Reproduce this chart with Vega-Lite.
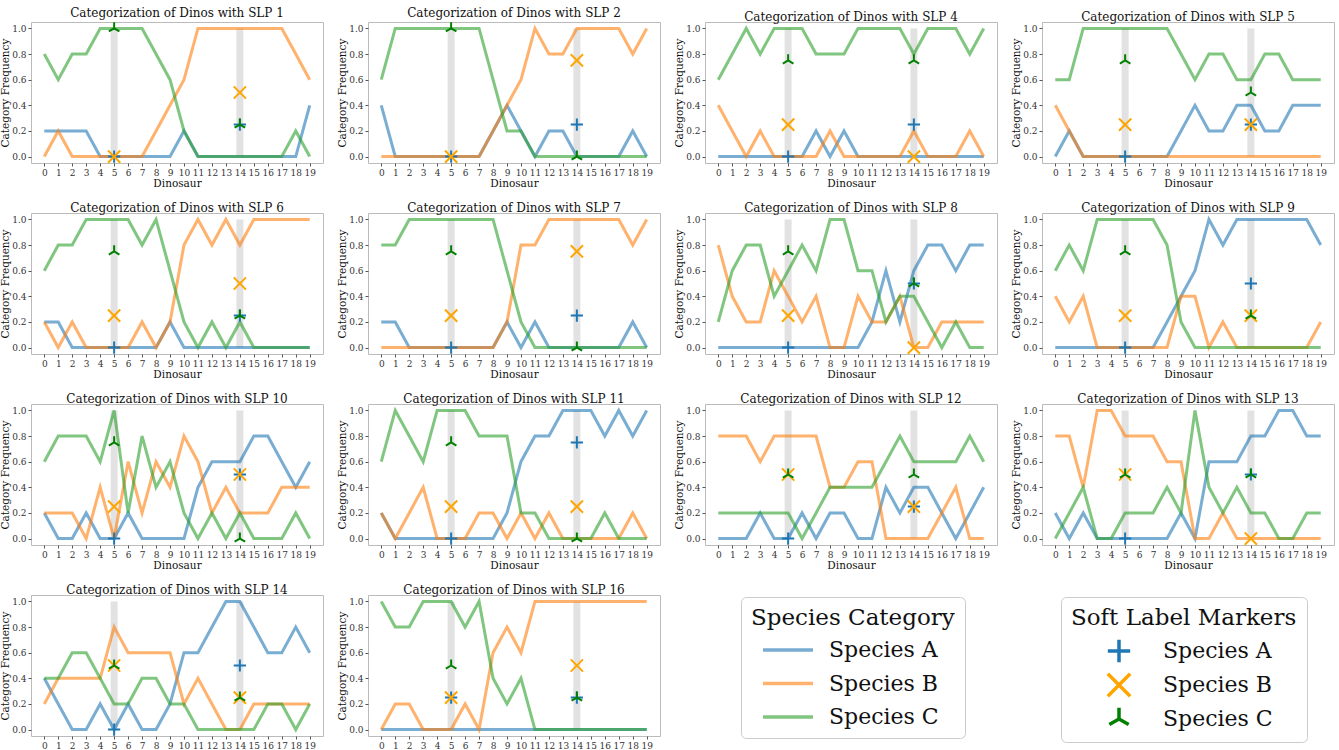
{
"$schema": "https://vega.github.io/schema/vega-lite/v6.json",
"padding": {"left": 0, "top": 6, "right": 0, "bottom": 0},
"config": {
 "font": "DejaVu Serif",
 "view": {"stroke": "#bbbbbb", "strokeWidth": 1},
 "axis": {"labelFont": "DejaVu Serif", "labelFontSize": 9, "labelColor": "#333333", "titleFont": "DejaVu Serif", "titleFontSize": 10.5, "titleFontWeight": "normal", "titleColor": "#111111", "domain": false, "grid": false, "tickColor": "#555555", "tickSize": 3, "labelPadding": 2, "titlePadding": 1},
 "header": {"labelFont": "DejaVu Serif", "labelFontSize": 12, "labelColor": "#111111", "labelPadding": -2},
 "legend": {"labelFont": "DejaVu Serif", "titleFont": "DejaVu Serif", "titleFontWeight": "normal", "labelColor": "#111111", "titleColor": "#111111", "titleLimit": 500, "labelLimit": 300}
},
"data": {"values": [
{"slp":1,"d":0,"A":0.2,"B":0,"C":0.8},{"slp":1,"d":1,"A":0.2,"B":0.2,"C":0.6},{"slp":1,"d":2,"A":0.2,"B":0,"C":0.8},{"slp":1,"d":3,"A":0.2,"B":0,"C":0.8},{"slp":1,"d":4,"A":0,"B":0,"C":1},{"slp":1,"d":5,"A":0,"B":0,"C":1},{"slp":1,"d":6,"A":0,"B":0,"C":1},{"slp":1,"d":7,"A":0,"B":0,"C":1},{"slp":1,"d":8,"A":0,"B":0.2,"C":0.8},{"slp":1,"d":9,"A":0,"B":0.4,"C":0.6},{"slp":1,"d":10,"A":0.2,"B":0.6,"C":0.2},{"slp":1,"d":11,"A":0,"B":1,"C":0},{"slp":1,"d":12,"A":0,"B":1,"C":0},{"slp":1,"d":13,"A":0,"B":1,"C":0},{"slp":1,"d":14,"A":0,"B":1,"C":0},{"slp":1,"d":15,"A":0,"B":1,"C":0},{"slp":1,"d":16,"A":0,"B":1,"C":0},{"slp":1,"d":17,"A":0,"B":1,"C":0},{"slp":1,"d":18,"A":0,"B":0.8,"C":0.2},{"slp":1,"d":19,"A":0.4,"B":0.6,"C":0},
{"slp":2,"d":0,"A":0.4,"B":0,"C":0.6},{"slp":2,"d":1,"A":0,"B":0,"C":1},{"slp":2,"d":2,"A":0,"B":0,"C":1},{"slp":2,"d":3,"A":0,"B":0,"C":1},{"slp":2,"d":4,"A":0,"B":0,"C":1},{"slp":2,"d":5,"A":0,"B":0,"C":1},{"slp":2,"d":6,"A":0,"B":0,"C":1},{"slp":2,"d":7,"A":0,"B":0,"C":1},{"slp":2,"d":8,"A":0.2,"B":0.2,"C":0.6},{"slp":2,"d":9,"A":0.4,"B":0.4,"C":0.2},{"slp":2,"d":10,"A":0.2,"B":0.6,"C":0.2},{"slp":2,"d":11,"A":0,"B":1,"C":0},{"slp":2,"d":12,"A":0.2,"B":0.8,"C":0},{"slp":2,"d":13,"A":0.2,"B":0.8,"C":0},{"slp":2,"d":14,"A":0,"B":1,"C":0},{"slp":2,"d":15,"A":0,"B":1,"C":0},{"slp":2,"d":16,"A":0,"B":1,"C":0},{"slp":2,"d":17,"A":0,"B":1,"C":0},{"slp":2,"d":18,"A":0.2,"B":0.8,"C":0},{"slp":2,"d":19,"A":0,"B":1,"C":0},
{"slp":4,"d":0,"A":0,"B":0.4,"C":0.6},{"slp":4,"d":1,"A":0,"B":0.2,"C":0.8},{"slp":4,"d":2,"A":0,"B":0,"C":1},{"slp":4,"d":3,"A":0,"B":0.2,"C":0.8},{"slp":4,"d":4,"A":0,"B":0,"C":1},{"slp":4,"d":5,"A":0,"B":0,"C":1},{"slp":4,"d":6,"A":0,"B":0,"C":1},{"slp":4,"d":7,"A":0.2,"B":0,"C":0.8},{"slp":4,"d":8,"A":0,"B":0.2,"C":0.8},{"slp":4,"d":9,"A":0.2,"B":0,"C":0.8},{"slp":4,"d":10,"A":0,"B":0,"C":1},{"slp":4,"d":11,"A":0,"B":0,"C":1},{"slp":4,"d":12,"A":0,"B":0,"C":1},{"slp":4,"d":13,"A":0,"B":0,"C":1},{"slp":4,"d":14,"A":0,"B":0.2,"C":0.8},{"slp":4,"d":15,"A":0,"B":0,"C":1},{"slp":4,"d":16,"A":0,"B":0,"C":1},{"slp":4,"d":17,"A":0,"B":0,"C":1},{"slp":4,"d":18,"A":0,"B":0.2,"C":0.8},{"slp":4,"d":19,"A":0,"B":0,"C":1},
{"slp":5,"d":0,"A":0,"B":0.4,"C":0.6},{"slp":5,"d":1,"A":0.2,"B":0.2,"C":0.6},{"slp":5,"d":2,"A":0,"B":0,"C":1},{"slp":5,"d":3,"A":0,"B":0,"C":1},{"slp":5,"d":4,"A":0,"B":0,"C":1},{"slp":5,"d":5,"A":0,"B":0,"C":1},{"slp":5,"d":6,"A":0,"B":0,"C":1},{"slp":5,"d":7,"A":0,"B":0,"C":1},{"slp":5,"d":8,"A":0,"B":0,"C":1},{"slp":5,"d":9,"A":0.2,"B":0,"C":0.8},{"slp":5,"d":10,"A":0.4,"B":0,"C":0.6},{"slp":5,"d":11,"A":0.2,"B":0,"C":0.8},{"slp":5,"d":12,"A":0.2,"B":0,"C":0.8},{"slp":5,"d":13,"A":0.4,"B":0,"C":0.6},{"slp":5,"d":14,"A":0.4,"B":0,"C":0.6},{"slp":5,"d":15,"A":0.2,"B":0,"C":0.8},{"slp":5,"d":16,"A":0.2,"B":0,"C":0.8},{"slp":5,"d":17,"A":0.4,"B":0,"C":0.6},{"slp":5,"d":18,"A":0.4,"B":0,"C":0.6},{"slp":5,"d":19,"A":0.4,"B":0,"C":0.6},
{"slp":6,"d":0,"A":0.2,"B":0.2,"C":0.6},{"slp":6,"d":1,"A":0.2,"B":0,"C":0.8},{"slp":6,"d":2,"A":0,"B":0.2,"C":0.8},{"slp":6,"d":3,"A":0,"B":0,"C":1},{"slp":6,"d":4,"A":0,"B":0,"C":1},{"slp":6,"d":5,"A":0,"B":0,"C":1},{"slp":6,"d":6,"A":0,"B":0,"C":1},{"slp":6,"d":7,"A":0,"B":0.2,"C":0.8},{"slp":6,"d":8,"A":0,"B":0,"C":1},{"slp":6,"d":9,"A":0.2,"B":0.2,"C":0.6},{"slp":6,"d":10,"A":0,"B":0.8,"C":0.2},{"slp":6,"d":11,"A":0,"B":1,"C":0},{"slp":6,"d":12,"A":0,"B":0.8,"C":0.2},{"slp":6,"d":13,"A":0,"B":1,"C":0},{"slp":6,"d":14,"A":0,"B":0.8,"C":0.2},{"slp":6,"d":15,"A":0,"B":1,"C":0},{"slp":6,"d":16,"A":0,"B":1,"C":0},{"slp":6,"d":17,"A":0,"B":1,"C":0},{"slp":6,"d":18,"A":0,"B":1,"C":0},{"slp":6,"d":19,"A":0,"B":1,"C":0},
{"slp":7,"d":0,"A":0.2,"B":0,"C":0.8},{"slp":7,"d":1,"A":0.2,"B":0,"C":0.8},{"slp":7,"d":2,"A":0,"B":0,"C":1},{"slp":7,"d":3,"A":0,"B":0,"C":1},{"slp":7,"d":4,"A":0,"B":0,"C":1},{"slp":7,"d":5,"A":0,"B":0,"C":1},{"slp":7,"d":6,"A":0,"B":0,"C":1},{"slp":7,"d":7,"A":0,"B":0,"C":1},{"slp":7,"d":8,"A":0,"B":0,"C":1},{"slp":7,"d":9,"A":0.2,"B":0.2,"C":0.6},{"slp":7,"d":10,"A":0,"B":0.8,"C":0.2},{"slp":7,"d":11,"A":0.2,"B":0.8,"C":0},{"slp":7,"d":12,"A":0,"B":1,"C":0},{"slp":7,"d":13,"A":0,"B":1,"C":0},{"slp":7,"d":14,"A":0,"B":1,"C":0},{"slp":7,"d":15,"A":0,"B":1,"C":0},{"slp":7,"d":16,"A":0,"B":1,"C":0},{"slp":7,"d":17,"A":0,"B":1,"C":0},{"slp":7,"d":18,"A":0.2,"B":0.8,"C":0},{"slp":7,"d":19,"A":0,"B":1,"C":0},
{"slp":8,"d":0,"A":0,"B":0.8,"C":0.2},{"slp":8,"d":1,"A":0,"B":0.4,"C":0.6},{"slp":8,"d":2,"A":0,"B":0.2,"C":0.8},{"slp":8,"d":3,"A":0,"B":0.2,"C":0.8},{"slp":8,"d":4,"A":0,"B":0.6,"C":0.4},{"slp":8,"d":5,"A":0,"B":0.4,"C":0.6},{"slp":8,"d":6,"A":0,"B":0.2,"C":0.8},{"slp":8,"d":7,"A":0,"B":0.4,"C":0.6},{"slp":8,"d":8,"A":0,"B":0,"C":1},{"slp":8,"d":9,"A":0,"B":0,"C":1},{"slp":8,"d":10,"A":0,"B":0.4,"C":0.6},{"slp":8,"d":11,"A":0.2,"B":0.2,"C":0.6},{"slp":8,"d":12,"A":0.6,"B":0.2,"C":0.2},{"slp":8,"d":13,"A":0.2,"B":0.4,"C":0.4},{"slp":8,"d":14,"A":0.6,"B":0,"C":0.4},{"slp":8,"d":15,"A":0.8,"B":0,"C":0.2},{"slp":8,"d":16,"A":0.8,"B":0.2,"C":0},{"slp":8,"d":17,"A":0.6,"B":0.2,"C":0.2},{"slp":8,"d":18,"A":0.8,"B":0.2,"C":0},{"slp":8,"d":19,"A":0.8,"B":0.2,"C":0},
{"slp":9,"d":0,"A":0,"B":0.4,"C":0.6},{"slp":9,"d":1,"A":0,"B":0.2,"C":0.8},{"slp":9,"d":2,"A":0,"B":0.4,"C":0.6},{"slp":9,"d":3,"A":0,"B":0,"C":1},{"slp":9,"d":4,"A":0,"B":0,"C":1},{"slp":9,"d":5,"A":0,"B":0,"C":1},{"slp":9,"d":6,"A":0,"B":0,"C":1},{"slp":9,"d":7,"A":0,"B":0,"C":1},{"slp":9,"d":8,"A":0.2,"B":0,"C":0.8},{"slp":9,"d":9,"A":0.4,"B":0.4,"C":0.2},{"slp":9,"d":10,"A":0.6,"B":0.4,"C":0},{"slp":9,"d":11,"A":1,"B":0,"C":0},{"slp":9,"d":12,"A":0.8,"B":0.2,"C":0},{"slp":9,"d":13,"A":1,"B":0,"C":0},{"slp":9,"d":14,"A":1,"B":0,"C":0},{"slp":9,"d":15,"A":1,"B":0,"C":0},{"slp":9,"d":16,"A":1,"B":0,"C":0},{"slp":9,"d":17,"A":1,"B":0,"C":0},{"slp":9,"d":18,"A":1,"B":0,"C":0},{"slp":9,"d":19,"A":0.8,"B":0.2,"C":0},
{"slp":10,"d":0,"A":0.2,"B":0.2,"C":0.6},{"slp":10,"d":1,"A":0,"B":0.2,"C":0.8},{"slp":10,"d":2,"A":0,"B":0.2,"C":0.8},{"slp":10,"d":3,"A":0.2,"B":0,"C":0.8},{"slp":10,"d":4,"A":0,"B":0.4,"C":0.6},{"slp":10,"d":5,"A":0,"B":0,"C":1},{"slp":10,"d":6,"A":0.2,"B":0.6,"C":0.2},{"slp":10,"d":7,"A":0,"B":0.2,"C":0.8},{"slp":10,"d":8,"A":0,"B":0.6,"C":0.4},{"slp":10,"d":9,"A":0,"B":0.4,"C":0.6},{"slp":10,"d":10,"A":0,"B":0.8,"C":0.2},{"slp":10,"d":11,"A":0.4,"B":0.6,"C":0},{"slp":10,"d":12,"A":0.6,"B":0.2,"C":0.2},{"slp":10,"d":13,"A":0.6,"B":0.4,"C":0},{"slp":10,"d":14,"A":0.6,"B":0.2,"C":0.2},{"slp":10,"d":15,"A":0.8,"B":0.2,"C":0},{"slp":10,"d":16,"A":0.8,"B":0.2,"C":0},{"slp":10,"d":17,"A":0.6,"B":0.4,"C":0},{"slp":10,"d":18,"A":0.4,"B":0.4,"C":0.2},{"slp":10,"d":19,"A":0.6,"B":0.4,"C":0},
{"slp":11,"d":0,"A":0.2,"B":0.2,"C":0.6},{"slp":11,"d":1,"A":0,"B":0,"C":1},{"slp":11,"d":2,"A":0,"B":0.2,"C":0.8},{"slp":11,"d":3,"A":0,"B":0.4,"C":0.6},{"slp":11,"d":4,"A":0,"B":0,"C":1},{"slp":11,"d":5,"A":0,"B":0,"C":1},{"slp":11,"d":6,"A":0,"B":0,"C":1},{"slp":11,"d":7,"A":0,"B":0.2,"C":0.8},{"slp":11,"d":8,"A":0,"B":0.2,"C":0.8},{"slp":11,"d":9,"A":0.2,"B":0,"C":0.8},{"slp":11,"d":10,"A":0.6,"B":0.2,"C":0.2},{"slp":11,"d":11,"A":0.8,"B":0,"C":0.2},{"slp":11,"d":12,"A":0.8,"B":0.2,"C":0},{"slp":11,"d":13,"A":1,"B":0,"C":0},{"slp":11,"d":14,"A":1,"B":0,"C":0},{"slp":11,"d":15,"A":1,"B":0,"C":0},{"slp":11,"d":16,"A":0.8,"B":0,"C":0.2},{"slp":11,"d":17,"A":1,"B":0,"C":0},{"slp":11,"d":18,"A":0.8,"B":0.2,"C":0},{"slp":11,"d":19,"A":1,"B":0,"C":0},
{"slp":12,"d":0,"A":0,"B":0.8,"C":0.2},{"slp":12,"d":1,"A":0,"B":0.8,"C":0.2},{"slp":12,"d":2,"A":0,"B":0.8,"C":0.2},{"slp":12,"d":3,"A":0.2,"B":0.6,"C":0.2},{"slp":12,"d":4,"A":0,"B":0.8,"C":0.2},{"slp":12,"d":5,"A":0,"B":0.8,"C":0.2},{"slp":12,"d":6,"A":0.2,"B":0.8,"C":0},{"slp":12,"d":7,"A":0,"B":0.8,"C":0.2},{"slp":12,"d":8,"A":0.2,"B":0.4,"C":0.4},{"slp":12,"d":9,"A":0.2,"B":0.4,"C":0.4},{"slp":12,"d":10,"A":0,"B":0.6,"C":0.4},{"slp":12,"d":11,"A":0,"B":0.6,"C":0.4},{"slp":12,"d":12,"A":0.4,"B":0,"C":0.6},{"slp":12,"d":13,"A":0.2,"B":0,"C":0.8},{"slp":12,"d":14,"A":0.4,"B":0,"C":0.6},{"slp":12,"d":15,"A":0.4,"B":0,"C":0.6},{"slp":12,"d":16,"A":0.2,"B":0.2,"C":0.6},{"slp":12,"d":17,"A":0,"B":0.4,"C":0.6},{"slp":12,"d":18,"A":0.2,"B":0,"C":0.8},{"slp":12,"d":19,"A":0.4,"B":0,"C":0.6},
{"slp":13,"d":0,"A":0.2,"B":0.8,"C":0},{"slp":13,"d":1,"A":0,"B":0.8,"C":0.2},{"slp":13,"d":2,"A":0.2,"B":0.4,"C":0.4},{"slp":13,"d":3,"A":0,"B":1,"C":0},{"slp":13,"d":4,"A":0,"B":1,"C":0},{"slp":13,"d":5,"A":0,"B":0.8,"C":0.2},{"slp":13,"d":6,"A":0,"B":0.8,"C":0.2},{"slp":13,"d":7,"A":0,"B":0.8,"C":0.2},{"slp":13,"d":8,"A":0,"B":0.6,"C":0.4},{"slp":13,"d":9,"A":0.2,"B":0.6,"C":0.2},{"slp":13,"d":10,"A":0,"B":0,"C":1},{"slp":13,"d":11,"A":0.6,"B":0,"C":0.4},{"slp":13,"d":12,"A":0.6,"B":0.2,"C":0.2},{"slp":13,"d":13,"A":0.6,"B":0,"C":0.4},{"slp":13,"d":14,"A":0.8,"B":0,"C":0.2},{"slp":13,"d":15,"A":0.8,"B":0,"C":0.2},{"slp":13,"d":16,"A":1,"B":0,"C":0},{"slp":13,"d":17,"A":1,"B":0,"C":0},{"slp":13,"d":18,"A":0.8,"B":0,"C":0.2},{"slp":13,"d":19,"A":0.8,"B":0,"C":0.2},
{"slp":14,"d":0,"A":0.4,"B":0.2,"C":0.4},{"slp":14,"d":1,"A":0.2,"B":0.4,"C":0.4},{"slp":14,"d":2,"A":0,"B":0.4,"C":0.6},{"slp":14,"d":3,"A":0,"B":0.4,"C":0.6},{"slp":14,"d":4,"A":0.2,"B":0.4,"C":0.4},{"slp":14,"d":5,"A":0,"B":0.8,"C":0.2},{"slp":14,"d":6,"A":0.2,"B":0.6,"C":0.2},{"slp":14,"d":7,"A":0,"B":0.6,"C":0.4},{"slp":14,"d":8,"A":0,"B":0.6,"C":0.4},{"slp":14,"d":9,"A":0.2,"B":0.6,"C":0.2},{"slp":14,"d":10,"A":0.6,"B":0.2,"C":0.2},{"slp":14,"d":11,"A":0.6,"B":0.4,"C":0},{"slp":14,"d":12,"A":0.8,"B":0.2,"C":0},{"slp":14,"d":13,"A":1,"B":0,"C":0},{"slp":14,"d":14,"A":1,"B":0,"C":0},{"slp":14,"d":15,"A":0.8,"B":0.2,"C":0},{"slp":14,"d":16,"A":0.6,"B":0.2,"C":0.2},{"slp":14,"d":17,"A":0.6,"B":0.2,"C":0.2},{"slp":14,"d":18,"A":0.8,"B":0.2,"C":0},{"slp":14,"d":19,"A":0.6,"B":0.2,"C":0.2},
{"slp":16,"d":0,"A":0,"B":0,"C":1},{"slp":16,"d":1,"A":0,"B":0.2,"C":0.8},{"slp":16,"d":2,"A":0,"B":0.2,"C":0.8},{"slp":16,"d":3,"A":0,"B":0,"C":1},{"slp":16,"d":4,"A":0,"B":0,"C":1},{"slp":16,"d":5,"A":0,"B":0,"C":1},{"slp":16,"d":6,"A":0,"B":0.2,"C":0.8},{"slp":16,"d":7,"A":0,"B":0,"C":1},{"slp":16,"d":8,"A":0,"B":0.6,"C":0.4},{"slp":16,"d":9,"A":0,"B":0.8,"C":0.2},{"slp":16,"d":10,"A":0,"B":0.6,"C":0.4},{"slp":16,"d":11,"A":0,"B":1,"C":0},{"slp":16,"d":12,"A":0,"B":1,"C":0},{"slp":16,"d":13,"A":0,"B":1,"C":0},{"slp":16,"d":14,"A":0,"B":1,"C":0},{"slp":16,"d":15,"A":0,"B":1,"C":0},{"slp":16,"d":16,"A":0,"B":1,"C":0},{"slp":16,"d":17,"A":0,"B":1,"C":0},{"slp":16,"d":18,"A":0,"B":1,"C":0},{"slp":16,"d":19,"A":0,"B":1,"C":0},
{"slp":1,"d":5,"m":1,"a":0,"b":0,"c":1},{"slp":1,"d":14,"m":1,"a":0.25,"b":0.5,"c":0.25},
{"slp":2,"d":5,"m":1,"a":0,"b":0,"c":1},{"slp":2,"d":14,"m":1,"a":0.25,"b":0.75,"c":0},
{"slp":4,"d":5,"m":1,"a":0,"b":0.25,"c":0.75},{"slp":4,"d":14,"m":1,"a":0.25,"b":0,"c":0.75},
{"slp":5,"d":5,"m":1,"a":0,"b":0.25,"c":0.75},{"slp":5,"d":14,"m":1,"a":0.25,"b":0.25,"c":0.5},
{"slp":6,"d":5,"m":1,"a":0,"b":0.25,"c":0.75},{"slp":6,"d":14,"m":1,"a":0.25,"b":0.5,"c":0.25},
{"slp":7,"d":5,"m":1,"a":0,"b":0.25,"c":0.75},{"slp":7,"d":14,"m":1,"a":0.25,"b":0.75,"c":0},
{"slp":8,"d":5,"m":1,"a":0,"b":0.25,"c":0.75},{"slp":8,"d":14,"m":1,"a":0.5,"b":0,"c":0.5},
{"slp":9,"d":5,"m":1,"a":0,"b":0.25,"c":0.75},{"slp":9,"d":14,"m":1,"a":0.5,"b":0.25,"c":0.25},
{"slp":10,"d":5,"m":1,"a":0,"b":0.25,"c":0.75},{"slp":10,"d":14,"m":1,"a":0.5,"b":0.5,"c":0},
{"slp":11,"d":5,"m":1,"a":0,"b":0.25,"c":0.75},{"slp":11,"d":14,"m":1,"a":0.75,"b":0.25,"c":0},
{"slp":12,"d":5,"m":1,"a":0,"b":0.5,"c":0.5},{"slp":12,"d":14,"m":1,"a":0.25,"b":0.25,"c":0.5},
{"slp":13,"d":5,"m":1,"a":0,"b":0.5,"c":0.5},{"slp":13,"d":14,"m":1,"a":0.5,"b":0,"c":0.5},
{"slp":14,"d":5,"m":1,"a":0,"b":0.5,"c":0.5},{"slp":14,"d":14,"m":1,"a":0.5,"b":0.25,"c":0.25},
{"slp":16,"d":5,"m":1,"a":0.25,"b":0.25,"c":0.5},{"slp":16,"d":14,"m":1,"a":0.25,"b":0.5,"c":0.25}
]},
"facet": {"field": "slp", "type": "ordinal", "header": {"title": null, "labelExpr": "'Categorization of Dinos with SLP ' + datum.value"}},
"columns": 4,
"spacing": {"row": 50, "column": 45},
"bounds": "flush",
"resolve": {"axis": {"x": "independent", "y": "independent"}},
"spec": {
 "width": 292,
 "height": 141,
 "layer": [
  {
   "transform": [{"filter": "datum.m == 1"}],
   "mark": {"type": "rule", "color": "#e2e2e2", "strokeWidth": 7},
   "encoding": {
    "x": {"field": "d", "type": "quantitative", "title": "Dinosaur", "scale": {"domain": [-0.95, 19.95], "nice": false, "zero": false}, "axis": {"values": [0,1,2,3,4,5,6,7,8,9,10,11,12,13,14,15,16,17,18,19], "format": "d", "labelOverlap": false, "labelAngle": 0}},
    "y": {"datum": 0, "type": "quantitative", "title": "Category Frequency", "scale": {"domain": [-0.05, 1.05], "nice": false, "zero": false}, "axis": {"values": [0, 0.2, 0.4, 0.6, 0.8, 1], "format": ".1f"}},
    "y2": {"datum": 1}
   }
  },
  {
   "transform": [{"filter": "datum.m != 1"}, {"fold": ["A", "B", "C"], "as": ["species", "freq"]}],
   "mark": {"type": "line", "strokeWidth": 3, "opacity": 0.6},
   "encoding": {
    "x": {"field": "d", "type": "quantitative", "title": "Dinosaur", "axis": {"values": [0,1,2,3,4,5,6,7,8,9,10,11,12,13,14,15,16,17,18,19], "format": "d", "labelOverlap": false, "labelAngle": 0}},
    "y": {"field": "freq", "type": "quantitative", "title": "Category Frequency", "axis": {"values": [0, 0.2, 0.4, 0.6, 0.8, 1], "format": ".1f"}},
    "color": {"field": "species", "type": "nominal", "scale": {"domain": ["A", "B", "C"], "range": ["#1f77b4", "#ff7f0e", "#2ca02c"]},
     "legend": {"title": "Species Category", "orient": "none", "legendX": 710, "legendY": 575, "symbolType": "M-2.5,0L2.5,0", "symbolStrokeWidth": 3.5, "symbolSize": 400, "labelFontSize": 22, "titleFontSize": 23, "strokeColor": "#cccccc", "cornerRadius": 5, "padding": 10, "fillColor": "white", "rowPadding": 10.5, "titlePadding": 8, "labelOffset": 29, "symbolOffset": 25, "labelExpr": "'Species ' + datum.label"}}
   }
  },
  {
   "transform": [{"filter": "datum.m == 1"}, {"fold": ["a", "b", "c"], "as": ["species", "freq"]}],
   "mark": {"type": "point", "filled": false, "strokeWidth": 2, "size": 150, "opacity": 1},
   "encoding": {
    "x": {"field": "d", "type": "quantitative", "title": "Dinosaur", "axis": {"values": [0,1,2,3,4,5,6,7,8,9,10,11,12,13,14,15,16,17,18,19], "format": "d", "labelOverlap": false, "labelAngle": 0}},
    "y": {"field": "freq", "type": "quantitative", "title": "Category Frequency", "axis": {"values": [0, 0.2, 0.4, 0.6, 0.8, 1], "format": ".1f"}},
    "stroke": {"field": "species", "type": "nominal", "scale": {"domain": ["a", "b", "c"], "range": ["#1f77b4", "#ffa500", "#008000"]},
     "legend": {"title": "Soft Label Markers", "orient": "none", "legendX": 1030, "legendY": 575, "symbolStrokeWidth": 3.5, "symbolSize": 500, "labelFontSize": 22, "titleFontSize": 23, "strokeColor": "#cccccc", "cornerRadius": 5, "padding": 10, "fillColor": "white", "rowPadding": -4, "titlePadding": 8, "labelOffset": 31, "symbolOffset": 35, "labelExpr": "'Species ' + upper(datum.label)"}},
    "shape": {"field": "species", "type": "nominal", "scale": {"domain": ["a", "b", "c"], "range": ["M-1,0L1,0M0,-1L0,1", "M-1,-1L1,1M-1,1L1,-1", "M0,0L0,-1M0,0L-0.866,0.5M0,0L0.866,0.5"]},
     "legend": {"title": "Soft Label Markers", "orient": "none", "legendX": 1030, "legendY": 575, "symbolStrokeWidth": 3.5, "symbolSize": 500, "labelFontSize": 22, "titleFontSize": 23, "strokeColor": "#cccccc", "cornerRadius": 5, "padding": 10, "fillColor": "white", "rowPadding": -4, "titlePadding": 8, "labelOffset": 31, "symbolOffset": 35, "labelExpr": "'Species ' + upper(datum.label)"}}
   }
  }
 ]
}
}
